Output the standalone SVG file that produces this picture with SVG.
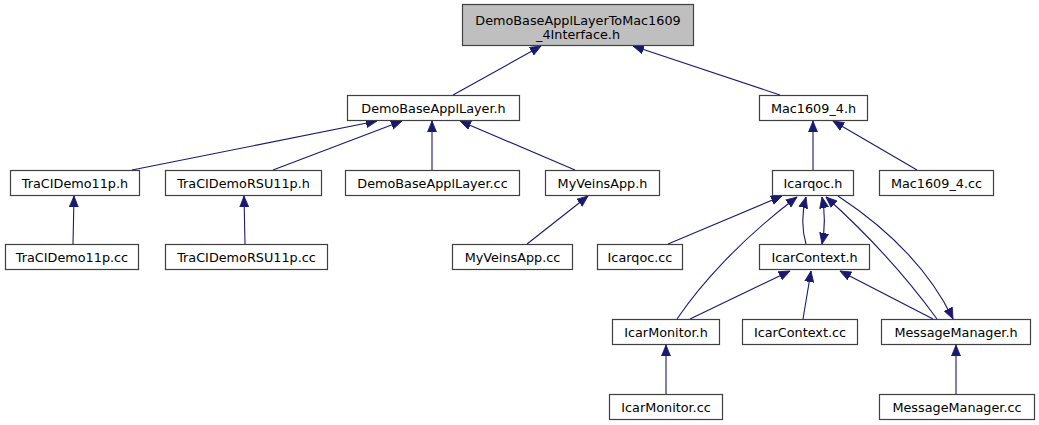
<svg xmlns="http://www.w3.org/2000/svg" width="1039" height="425" viewBox="0 0 1039 425">
<style>
.node rect{fill:#ffffff;stroke:#404040;stroke-width:1.2}
.node.root rect{fill:#bfbfbf}
.node text{font-family:"DejaVu Sans",sans-serif;font-size:12.8px;fill:#000;text-anchor:middle}
.edges path{fill:none;stroke:#191970;stroke-width:1.1}
</style>
<defs>
<marker id="arr" markerUnits="userSpaceOnUse" markerWidth="12" markerHeight="10" refX="11" refY="4.5" orient="auto-start-reverse" viewBox="0 0 12 9">
<path d="M0,0 L11,4.5 L0,9 Z" fill="#191970" stroke="#191970" stroke-width="0.8"/>
</marker>
</defs>
<rect x="0" y="0" width="1039" height="425" fill="#ffffff"/>
<g class="edges">
<path d="M453,95 L541,46" marker-end="url(#arr)"/>
<path d="M780,95 L633,46" marker-end="url(#arr)"/>
<path d="M132,170 L377,121" marker-end="url(#arr)"/>
<path d="M273,170 L402,121" marker-end="url(#arr)"/>
<path d="M432,170 L432,121" marker-end="url(#arr)"/>
<path d="M575,170 L460,121" marker-end="url(#arr)"/>
<path d="M813,170 L813,121" marker-end="url(#arr)"/>
<path d="M917,170 L833,121" marker-end="url(#arr)"/>
<path d="M73,244 L74,196" marker-end="url(#arr)"/>
<path d="M245,244 L244,196" marker-end="url(#arr)"/>
<path d="M527,244 L588,196" marker-end="url(#arr)"/>
<path d="M668,244 L782,196" marker-end="url(#arr)"/>
<path d="M677,319 C700,285 740,240 797,197" marker-end="url(#arr)"/>
<path d="M806,244 C802,230 802,212 806,197" marker-end="url(#arr)"/>
<path d="M822,197 C825,212 825,229 822,244" marker-start="url(#arr)" marker-end="url(#arr)"/>
<path d="M937,319 C905,275 865,232 826,197" marker-end="url(#arr)"/>
<path d="M838,196 C882,225 927,265 953,319" marker-end="url(#arr)"/>
<path d="M690,319 L790,271" marker-end="url(#arr)"/>
<path d="M803,319 L811,271" marker-end="url(#arr)"/>
<path d="M933,319 L840,271" marker-end="url(#arr)"/>
<path d="M666,394 L666,345" marker-end="url(#arr)"/>
<path d="M956,394 L956,345" marker-end="url(#arr)"/>
</g>
<g id="n_root" class="node root"><rect x="462.5" y="4.5" width="231" height="41"/><text x="578" y="25">DemoBaseApplLayerToMac1609</text><text x="578" y="38.5">_4Interface.h</text></g>
<g id="n_dbal_h" class="node"><rect x="347.5" y="95.5" width="172" height="25"/><text x="433.5" y="112.5">DemoBaseApplLayer.h</text></g>
<g id="n_mac_h" class="node"><rect x="759.5" y="95.5" width="108" height="25"/><text x="813.5" y="112.5">Mac1609_4.h</text></g>
<g id="n_tracidemo_h" class="node"><rect x="10.5" y="170.5" width="129" height="25"/><text x="75" y="187.5">TraCIDemo11p.h</text></g>
<g id="n_tracirsu_h" class="node"><rect x="165.5" y="170.5" width="156" height="25"/><text x="243.5" y="187.5">TraCIDemoRSU11p.h</text></g>
<g id="n_dbal_cc" class="node"><rect x="345.5" y="170.5" width="174" height="25"/><text x="432.5" y="187.5">DemoBaseApplLayer.cc</text></g>
<g id="n_myveins_h" class="node"><rect x="545.5" y="170.5" width="114" height="25"/><text x="602.5" y="187.5">MyVeinsApp.h</text></g>
<g id="n_icarqoc_h" class="node"><rect x="772.5" y="170.5" width="81" height="25"/><text x="813" y="187.5">Icarqoc.h</text></g>
<g id="n_mac_cc" class="node"><rect x="879.5" y="170.5" width="114" height="25"/><text x="936.5" y="187.5">Mac1609_4.cc</text></g>
<g id="n_tracidemo_cc" class="node"><rect x="5.5" y="244.5" width="133" height="25"/><text x="72" y="261.5">TraCIDemo11p.cc</text></g>
<g id="n_tracirsu_cc" class="node"><rect x="165.5" y="244.5" width="162" height="25"/><text x="246.5" y="261.5">TraCIDemoRSU11p.cc</text></g>
<g id="n_myveins_cc" class="node"><rect x="452.5" y="244.5" width="120" height="25"/><text x="512.5" y="261.5">MyVeinsApp.cc</text></g>
<g id="n_icarqoc_cc" class="node"><rect x="597.5" y="244.5" width="85" height="25"/><text x="640" y="261.5">Icarqoc.cc</text></g>
<g id="n_icarcontext_h" class="node"><rect x="759.5" y="244.5" width="110" height="25"/><text x="814.5" y="261.5">IcarContext.h</text></g>
<g id="n_icarmonitor_h" class="node"><rect x="612.5" y="319.5" width="107" height="25"/><text x="666" y="336.5">IcarMonitor.h</text></g>
<g id="n_icarcontext_cc" class="node"><rect x="742.5" y="319.5" width="115" height="25"/><text x="800" y="336.5">IcarContext.cc</text></g>
<g id="n_msgmgr_h" class="node"><rect x="881.5" y="319.5" width="149" height="25"/><text x="956" y="336.5">MessageManager.h</text></g>
<g id="n_icarmonitor_cc" class="node"><rect x="609.5" y="394.5" width="113" height="25"/><text x="666" y="411.5">IcarMonitor.cc</text></g>
<g id="n_msgmgr_cc" class="node"><rect x="879.5" y="394.5" width="155" height="25"/><text x="957" y="411.5">MessageManager.cc</text></g>
</svg>
